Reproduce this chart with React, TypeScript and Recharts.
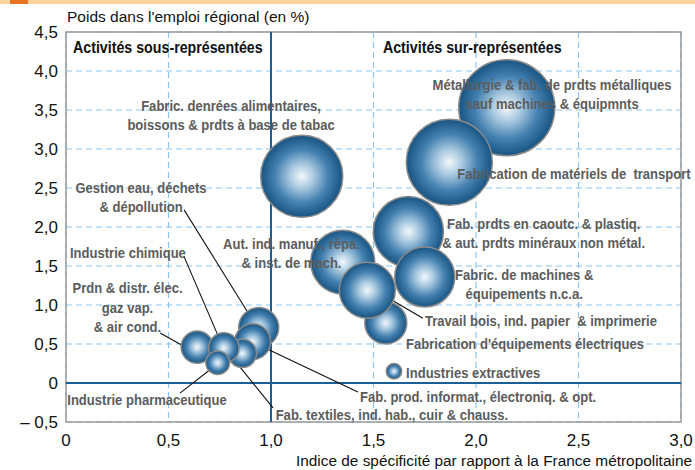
import { ScatterChart, Scatter, XAxis, YAxis, ZAxis, CartesianGrid, ReferenceLine, ReferenceArea } from 'recharts';

const sectors = [
  'Fabric. denrées alimentaires, boissons & prdts à base de tabac',
  'Métallurgie & fab. de prdts métalliques sauf machines & équipmnts',
  'Fabrication de matériels de transport',
  'Fab. prdts en caoutc. & plastiq. & aut. prdts minéraux non métal.',
  'Aut. ind. manuf., répa. & inst. de mach.',
  'Fabric. de machines & équipements n.c.a.',
  "Fabrication d'équipements électriques",
  'Travail bois, ind. papier & imprimerie',
  'Industries extractives',
  'Gestion eau, déchets & dépollution',
  'Fab. prod. informat., électroniq. & opt.',
  'Fab. textiles, ind. hab., cuir & chauss.',
  'Prdn & distr. élec. gaz vap. & air cond.',
  'Industrie chimique',
  'Industrie pharmaceutique',
];
const specificity = [1.15, 2.15, 1.87, 1.67, 1.35, 1.75, 1.56, 1.47, 1.6, 0.94, 0.91, 0.86, 0.64, 0.77, 0.74];
const weight = [2.65, 3.53, 2.83, 1.94, 1.55, 1.36, 0.77, 1.19, 0.15, 0.71, 0.53, 0.38, 0.46, 0.45, 0.26];
const jobs = [16.8, 23.0, 18.5, 12.3, 10.2, 9.0, 4.4, 7.8, 0.6, 4.0, 3.2, 2.0, 2.6, 2.3, 1.4];

const xTicks = [0, 0.5, 1, 1.5, 2, 2.5, 3];
const yTicks = [-0.5, 0, 0.5, 1, 1.5, 2, 2.5, 3, 3.5, 4, 4.5];

const bubbles = sectors.map((name, i) => ({ name, x: specificity[i], y: weight[i], z: jobs[i] }));

// annotations, positioned in data units
const notes = [
  { lines: ['Activités sous-représentées'], x: 0.034, y: 4.31, anchor: 'start', head: true },
  { lines: ['Activités sur-représentées'], x: 1.546, y: 4.31, anchor: 'start', head: true },
  { lines: ['Fabric. denrées alimentaires,', 'boissons & prdts à base de tabac'], x: 0.805, y: 3.56, anchor: 'middle' },
  { lines: ['Métallurgie & fab. de prdts métalliques', 'sauf machines & équipmnts'], x: 2.371, y: 3.82, anchor: 'middle' },
  { lines: ['Fabrication de matériels de  transport'], x: 2.478, y: 2.69, anchor: 'middle' },
  { lines: ['Fab. prdts en caoutc. & plastiq.', '& aut. prdts minéraux non métal.'], x: 2.33, y: 2.04, anchor: 'middle' },
  { lines: ['Fabric. de machines &', 'équipements n.c.a.'], x: 2.235, y: 1.385, anchor: 'middle' },
  { lines: ['Travail bois, ind. papier  & imprimerie'], x: 2.317, y: 0.795, anchor: 'middle' },
  { lines: ["Fabrication d'équipements électriques"], x: 2.239, y: 0.5, anchor: 'middle' },
  { lines: ['Industries extractives'], x: 1.659, y: 0.128, anchor: 'start' },
  { lines: ['Fab. prod. informat., électroniq. & opt.'], x: 2.01, y: -0.18, anchor: 'middle' },
  { lines: ['Fab. textiles, ind. hab., cuir & chauss.'], x: 1.59, y: -0.4, anchor: 'middle' },
  { lines: ['Industrie pharmaceutique'], x: 0.395, y: -0.22, anchor: 'middle' },
  { lines: ['Prdn & distr. élec.', 'gaz vap.', '& air cond.'], x: 0.3, y: 1.22, anchor: 'middle' },
  { lines: ['Industrie chimique'], x: 0.302, y: 1.67, anchor: 'middle' },
  { lines: ['Aut. ind. manuf., répa.', '& inst. de mach.'], x: 1.1, y: 1.78, anchor: 'middle' },
  { lines: ['Gestion eau, déchets', '& dépollution'], x: 0.366, y: 2.51, anchor: 'middle' },
];

const leaders = [
  [[0.576, 2.22], [0.907, 0.82]],
  [[0.576, 1.62], [0.751, 0.55]],
  [[0.459, 0.64], [0.59, 0.45]],
  [[0.556, -0.13], [0.707, 0.18]],
  [[0.844, 0.22], [1.01, -0.32]],
  [[0.961, 0.46], [1.424, -0.115]],
  [[1.566, 1.1], [1.741, 0.83]],
];

const FONT = '"Liberation Sans", Arial, sans-serif';
const BLUE = '#1c5f96';
const GRID = '#8cc6ee';

const fmt = (v: number) => {
  if (v === 0) return '0';
  const s = Math.abs(v).toFixed(1).replace('.', ',');
  return v < 0 ? '– ' + s : s;
};

const Bubble = (props: any) => {
  const r = Math.sqrt(Math.max(props.size || 0, 0) / Math.PI);
  return <circle cx={props.cx} cy={props.cy} r={r} fill="url(#bubbleGrad)" stroke="#8a8a8a" strokeWidth={1.5} />;
};

const Note = (props: any) => {
  const p = props.payload;
  const gap = p.lines.length > 2 ? 19.5 : 19;
  const sx = p.head ? 0.89 : 0.87;
  return (
    <text
      transform={`translate(${props.cx},${props.cy}) scale(${sx},1)`}
      x={0}
      y={0}
      textAnchor={p.anchor}
      dominantBaseline="central"
      fontFamily={FONT}
      fontWeight="bold"
      fontSize={p.head ? 16 : 15}
      fill={p.head ? '#111' : '#5c5c5c'}
    >
      {p.lines.map((l: string, i: number) => (
        <tspan key={i} x={0} dy={i === 0 ? 0 : gap} style={{ whiteSpace: 'pre' }}>
          {l}
        </tspan>
      ))}
    </text>
  );
};

export default function App() {
  return (
    <div style={{ position: 'absolute', left: 0, top: 0, width: 695, height: 470, background: '#fff' }}>
      <svg width={0} height={0} style={{ position: 'absolute' }}>
        <defs>
          <radialGradient id="bubbleGrad" cx="50%" cy="50%" r="50%">
            <stop offset="0%" stopColor="#f4f8fb" />
            <stop offset="30%" stopColor="#a7c8df" />
            <stop offset="65%" stopColor="#4682b1" />
            <stop offset="100%" stopColor="#185482" />
          </radialGradient>
        </defs>
      </svg>
      <div style={{ position: 'absolute', left: 0, top: 0, width: 695, height: 4, background: '#fbd39b' }} />
      <div style={{ position: 'absolute', left: 10, top: 0, width: 18, height: 4, background: '#e8731e' }} />
      <ScatterChart width={695} height={470} margin={{ top: 32, right: 14, bottom: 0, left: 0 }}>
        <CartesianGrid stroke={GRID} strokeDasharray="6 4" strokeWidth={1.2} />
        <ReferenceArea x1={0} x2={3} y1={-0.5} y2={4.5} fill="none" stroke="#9a9a9a" strokeWidth={1.5} />
        <XAxis
          type="number"
          dataKey="x"
          domain={[0, 3]}
          ticks={xTicks}
          tickFormatter={fmt}
          axisLine={false}
          tickLine={false}
          tickSize={0}
          tickMargin={12}
          height={48}
          tick={{ fontFamily: FONT, fontSize: 17, fill: '#111' }}
          label={{
            content: (lp: any) => (
              <text
                x={lp.viewBox.x + lp.viewBox.width + 11}
                y={lp.viewBox.y + 44}
                textAnchor="end"
                fontFamily={FONT}
                fontSize={15.4}
                fill="#111"
              >
                Indice de spécificité par rapport à la France métropolitaine
              </text>
            ),
          }}
        />
        <YAxis
          type="number"
          dataKey="y"
          domain={[-0.5, 4.5]}
          ticks={yTicks}
          tickFormatter={fmt}
          axisLine={false}
          tickLine={false}
          tickSize={0}
          tickMargin={8}
          width={66}
          tick={{ fontFamily: FONT, fontSize: 17, fill: '#111' }}
          label={{
            content: (lp: any) => (
              <text x={67} y={lp.viewBox.y - 10} fontFamily={FONT} fontSize={15.5} fill="#111">
                Poids dans l'emploi régional (en %)
              </text>
            ),
          }}
        />
        <ZAxis type="number" dataKey="z" domain={[0, 23]} range={[0, Math.PI * 48 * 48]} />
        <ReferenceLine y={0} stroke={BLUE} strokeWidth={2} />
        <ReferenceLine x={1} stroke={BLUE} strokeWidth={2} />
        <Scatter data={bubbles} shape={Bubble} isAnimationActive={false} />
        {leaders.map((s, i) => (
          <ReferenceLine
            key={i}
            segment={[{ x: s[0][0], y: s[0][1] }, { x: s[1][0], y: s[1][1] }]}
            stroke="#111"
            strokeWidth={1.1}
          />
        ))}
        <Scatter data={notes} shape={Note} isAnimationActive={false} />
      </ScatterChart>
    </div>
  );
}
